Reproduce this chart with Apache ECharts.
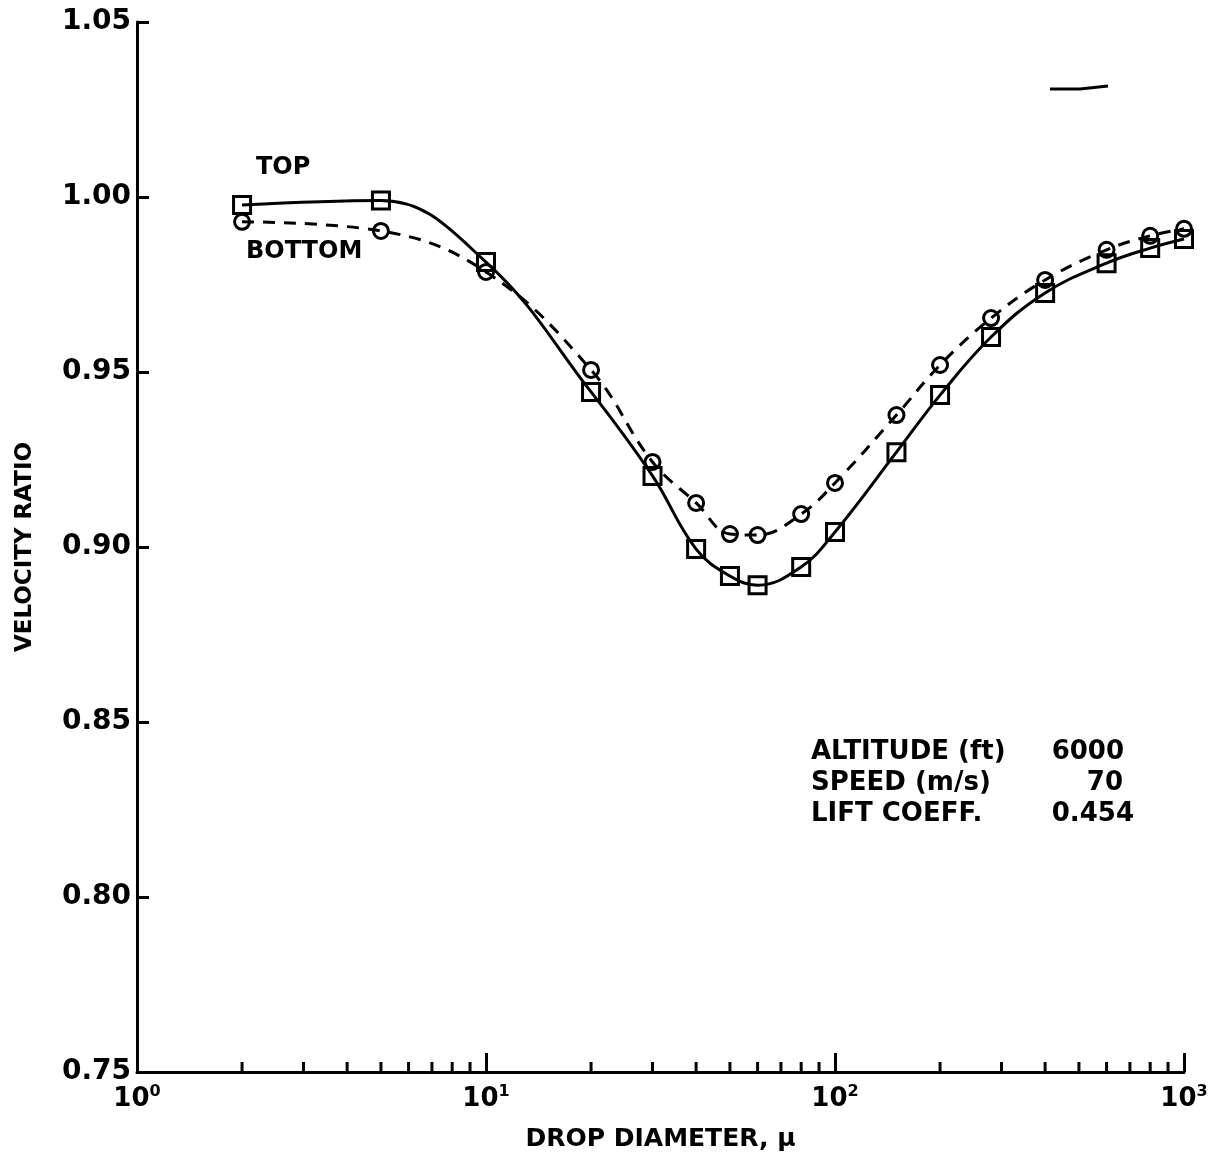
<!DOCTYPE html>
<html>
<head>
<meta charset="utf-8">
<script src="https://cdn.jsdelivr.net/npm/echarts@6/dist/echarts.min.js"></script>
<style>
  html, body { margin: 0; padding: 0; background: #fff; }
  #main { width: 1227px; height: 1174px; }
</style>
</head>
<body>
<div id="main"></div>
<script>
var chartDom = document.getElementById('main');
var myChart = echarts.init(chartDom);
var option;

// drop diameter (microns)
var diameters = [2, 5, 10, 20, 30, 40, 50, 60, 80, 100, 150, 200, 280, 400, 600, 800, 1000];
// velocity ratio, top surface (squares, solid)
var topRatio = [0.9977, 0.9990, 0.9814, 0.9443, 0.9203, 0.8994, 0.8917, 0.8891, 0.8943, 0.9043, 0.9271, 0.9434, 0.9600, 0.9726, 0.9811, 0.9854, 0.9880];
// velocity ratio, bottom surface (circles, dashed)
var bottomRatio = [0.9929, 0.9903, 0.9786, 0.9506, 0.9243, 0.9126, 0.9037, 0.9034, 0.9094, 0.9183, 0.9377, 0.9520, 0.9654, 0.9763, 0.9849, 0.9889, 0.9909];
// minor ticks of the log axis
var minorTicks = [2, 3, 4, 5, 6, 7, 8, 9, 20, 30, 40, 50, 60, 70, 80, 90, 200, 300, 400, 500, 600, 700, 800, 900];
var yTicks = [0.75, 0.80, 0.85, 0.90, 0.95, 1.00, 1.05];
var noteLabels = ['ALTITUDE (ft)', 'SPEED (m/s)', 'LIFT COEFF.'];
var noteValues = ['6000', '70', '0.454'];

var font = 'DejaVu Sans';

function pairs(xs, ys) {
    return xs.map(function (x, i) { return [x, ys[i]]; });
}

var graphics = [];
var valueRight = [1124, 1123, 1134];
noteLabels.forEach(function (label, i) {
    graphics.push({
        type: 'text', left: 811, top: 739 + i * 31,
        style: { text: label, font: 'bold 26px ' + font, fill: '#000' }
    });
    graphics.push({
        type: 'text', right: 1227 - valueRight[i], top: 739 + i * 31,
        style: { text: noteValues[i], font: 'bold 26px ' + font, fill: '#000', textAlign: 'right' }
    });
});
graphics.push({
    type: 'text', left: 256, top: 156,
    style: { text: 'TOP', font: 'bold 24px ' + font, fill: '#000' }
});
graphics.push({
    type: 'text', left: 246, top: 240,
    style: { text: 'BOTTOM', font: 'bold 24px ' + font, fill: '#000' }
});
// stray pen mark near the top right
graphics.push({
    type: 'polyline',
    shape: { points: [[1050, 89], [1080, 89], [1108, 86]] },
    style: { stroke: '#000', lineWidth: 3 }
});

option = {
    animation: false,
    backgroundColor: '#fff',
    grid: { left: 137, right: 43, top: 22, bottom: 102 },
    xAxis: {
        type: 'log',
        logBase: 10,
        min: 1,
        max: 1000,
        name: 'DROP DIAMETER, μ',
        nameLocation: 'middle',
        nameGap: 55,
        nameTextStyle: { color: '#000', fontFamily: font, fontWeight: 'bold', fontSize: 25 },
        axisLine: { lineStyle: { color: '#000', width: 3 } },
        axisTick: { inside: true, length: 19, lineStyle: { color: '#000', width: 3 } },
        minorTick: { show: false },
        splitLine: { show: false },
        axisLabel: {
            margin: 12,
            formatter: function (v) {
                return '10{sup|' + Math.round(Math.log10(v)) + '}';
            },
            color: '#000',
            fontFamily: font,
            fontWeight: 'bold',
            fontSize: 26,
            rich: {
                sup: { fontFamily: font, fontWeight: 'bold', fontSize: 16, verticalAlign: 'top', padding: [0, 0, 14, 0], color: '#000' }
            }
        }
    },
    yAxis: {
        type: 'value',
        min: 0.75,
        max: 1.05,
        interval: 0.05,
        name: 'VELOCITY RATIO',
        nameLocation: 'middle',
        nameGap: 100,
        nameTextStyle: { color: '#000', fontFamily: font, fontWeight: 'bold', fontSize: 23 },
        axisLine: { show: true, lineStyle: { color: '#000', width: 3 } },
        axisTick: { show: true, inside: true, length: 12, lineStyle: { color: '#000', width: 3 } },
        splitLine: { show: false },
        axisLabel: {
            margin: 6,
            color: '#000',
            fontFamily: font,
            fontWeight: 'bold',
            fontSize: 28,
            formatter: function (v) {
                var t = yTicks.find(function (k) { return Math.abs(k - v) < 1e-6; });
                return (t !== undefined ? t : v).toFixed(2);
            }
        }
    },
    graphic: graphics,
    series: [
        {
            name: 'TOP',
            type: 'line',
            smooth: 0.4,
            data: pairs(diameters, topRatio),
            symbol: 'rect',
            symbolSize: 17,
            lineStyle: { color: '#000', width: 3 },
            itemStyle: { color: 'rgba(0,0,0,0)', borderColor: '#000', borderWidth: 3 },
            z: 3
        },
        {
            name: 'BOTTOM',
            type: 'line',
            smooth: 0.4,
            data: pairs(diameters, bottomRatio),
            symbol: 'circle',
            symbolSize: 15,
            lineStyle: { color: '#000', width: 3, type: [12, 9] },
            itemStyle: { color: 'rgba(0,0,0,0)', borderColor: '#000', borderWidth: 3 },
            z: 3
        },
        {
            name: 'minor',
            type: 'custom',
            silent: true,
            data: minorTicks.map(function (m) { return [m, 0.75]; }),
            renderItem: function (params, api) {
                var p = api.coord([api.value(0), api.value(1)]);
                return {
                    type: 'line',
                    shape: { x1: p[0], y1: p[1], x2: p[0], y2: p[1] - 10 },
                    style: { stroke: '#000', lineWidth: 3 }
                };
            },
            z: 2
        }
    ]
};

option && myChart.setOption(option);
</script>
</body>
</html>
